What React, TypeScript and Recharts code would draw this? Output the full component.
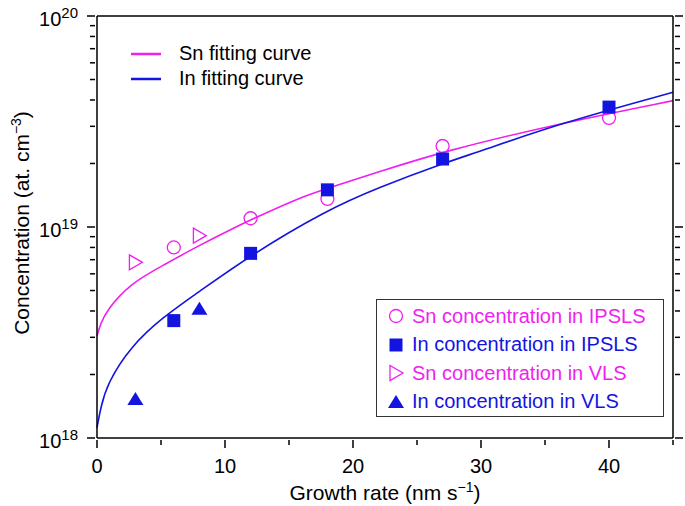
import React from 'react';
import { ComposedChart, Line, Scatter, XAxis, YAxis } from 'recharts';

const MAGENTA = '#f01ef0';
const BLUE = '#1414e0';
const FONT = '"Liberation Sans", Arial, Helvetica, sans-serif';

// measured points
const snIpsls = [
  { x: 6, y: 8.0e18 },
  { x: 12, y: 1.1e19 },
  { x: 18, y: 1.36e19 },
  { x: 27, y: 2.42e19 },
  { x: 40, y: 3.29e19 },
];
const inIpsls = [
  { x: 6, y: 3.6e18 },
  { x: 12, y: 7.5e18 },
  { x: 18, y: 1.5e19 },
  { x: 27, y: 2.1e19 },
  { x: 40, y: 3.7e19 },
];
const snVls = [
  { x: 3, y: 6.8e18 },
  { x: 8, y: 9.1e18 },
];
const inVls = [
  { x: 3, y: 1.53e18 },
  { x: 8, y: 4.1e18 },
];

// fitting curves
const snFit = [
  { x: 0, y: 3.05e18 },
  { x: 0.3, y: 3.5e18 },
  { x: 0.78, y: 4.05e18 },
  { x: 2.6, y: 5.4e18 },
  { x: 5.2, y: 6.6e18 },
  { x: 7.8, y: 8.07e18 },
  { x: 10.4, y: 9.7e18 },
  { x: 12, y: 1.08e19 },
  { x: 15.6, y: 1.36e19 },
  { x: 17.9, y: 1.52e19 },
  { x: 22.1, y: 1.83e19 },
  { x: 27, y: 2.28e19 },
  { x: 36.2, y: 3.1e19 },
  { x: 45, y: 3.97e19 },
];
const inFit = [
  { x: 0, y: 1.12e18 },
  { x: 0.3, y: 1.4e18 },
  { x: 0.78, y: 1.8e18 },
  { x: 2.6, y: 2.71e18 },
  { x: 5.2, y: 3.76e18 },
  { x: 7.8, y: 4.85e18 },
  { x: 12, y: 7.36e18 },
  { x: 17.9, y: 1.2e19 },
  { x: 22, y: 1.54e19 },
  { x: 27, y: 2.0e19 },
  { x: 29.9, y: 2.28e19 },
  { x: 36.2, y: 3.1e19 },
  { x: 45, y: 4.35e19 },
];

const xTicks = [0, 5, 10, 15, 20, 25, 30, 35, 40, 45];
const xLabelled = [0, 10, 20, 30, 40];
const yTicks = [
  1e18, 2e18, 3e18, 4e18, 5e18, 6e18, 7e18, 8e18, 9e18,
  1e19, 2e19, 3e19, 4e19, 5e19, 6e19, 7e19, 8e19, 9e19,
  1e20,
];

const fitLegend = [
  { label: 'Sn fitting curve', color: MAGENTA },
  { label: 'In fitting curve', color: BLUE },
];
const pointLegend = [
  { label: 'Sn concentration in IPSLS', color: MAGENTA, shape: 'circle' },
  { label: 'In concentration in IPSLS', color: BLUE, shape: 'square' },
  { label: 'Sn concentration in VLS', color: MAGENTA, shape: 'tri-right' },
  { label: 'In concentration in VLS', color: BLUE, shape: 'tri-up' },
];

const Marker = ({ cx, cy, shape }: { cx: number; cy: number; shape: string }) => {
  if (shape === 'circle')
    return <circle cx={cx} cy={cy} r={6.5} fill="none" stroke={MAGENTA} strokeWidth={1.3} />;
  if (shape === 'square')
    return <rect x={cx - 6.5} y={cy - 6.5} width={13} height={13} fill={BLUE} />;
  if (shape === 'tri-right')
    return (
      <polygon
        points={`${cx - 6},${cy - 7.5} ${cx + 7},${cy} ${cx - 6},${cy + 7.5}`}
        fill="none"
        stroke={MAGENTA}
        strokeWidth={1.3}
      />
    );
  return <polygon points={`${cx},${cy - 7} ${cx + 8},${cy + 6} ${cx - 8},${cy + 6}`} fill={BLUE} />;
};

const isDecade = (v: number) => {
  const e = Math.round(Math.log10(v));
  return Math.abs(v - Math.pow(10, e)) < v * 1e-6;
};

const YTick = (props: any) => {
  const { x, y, payload, side } = props;
  const v = payload.value;
  const major = isDecade(v);
  const len = major ? 8 : 5;
  const dir = side === 'left' ? -1 : 1;
  return (
    <g>
      <line x1={x} x2={x + dir * len} y1={y} y2={y} stroke="#000" strokeWidth={1.5} />
      {side === 'left' && major && (
        <text x={x - 17} y={y + 10} textAnchor="end" fontSize={20} fontFamily={FONT} fill="#000">
          10
          <tspan dy={-8} fontSize={15}>
            {Math.round(Math.log10(v))}
          </tspan>
        </text>
      )}
    </g>
  );
};

const XTick = (props: any) => {
  const { x, y, payload, side } = props;
  const v = payload.value;
  const major = xLabelled.includes(v);
  const len = major ? 8 : 5;
  const dir = side === 'bottom' ? 1 : -1;
  return (
    <g>
      <line x1={x} x2={x} y1={y} y2={y + dir * len} stroke="#000" strokeWidth={1.5} />
      {side === 'bottom' && major && (
        <text x={x} y={y + 33} textAnchor="middle" fontSize={20} fontFamily={FONT} fill="#000">
          {v}
        </text>
      )}
    </g>
  );
};

const App = () => (
  <div
    style={{
      position: 'absolute',
      left: 0,
      top: 0,
      width: 685,
      height: 506,
      background: '#fff',
      fontFamily: FONT,
    }}
  >
    <ComposedChart width={685} height={506} margin={{ top: 0, right: 0, bottom: 0, left: 0 }}>
      <XAxis
        xAxisId="b"
        orientation="bottom"
        type="number"
        dataKey="x"
        domain={[0, 45]}
        ticks={xTicks}
        interval={0}
        height={68}
        tickSize={0}
        tickLine={false}
        axisLine={{ stroke: '#000', strokeWidth: 1.5 }}
        tick={<XTick side="bottom" />}
        label={{
          content: (p: any) => {
            const vb = p.viewBox;
            return (
              <text
                x={vb.x + vb.width / 2}
                y={500}
                textAnchor="middle"
                fontSize={21}
                fontFamily={FONT}
                fill="#000"
              >
                Growth rate (nm s
                <tspan dy={-8} fontSize={14}>
                  −1
                </tspan>
                <tspan dy={8}>)</tspan>
              </text>
            );
          },
        }}
      />
      <XAxis
        xAxisId="t"
        orientation="top"
        type="number"
        domain={[0, 45]}
        ticks={xTicks}
        interval={0}
        height={16}
        tickSize={0}
        tickLine={false}
        axisLine={{ stroke: '#000', strokeWidth: 1.5 }}
        tick={<XTick side="top" />}
      />
      <YAxis
        yAxisId="l"
        orientation="left"
        type="number"
        dataKey="y"
        scale="log"
        domain={[1e18, 1e20]}
        allowDataOverflow
        ticks={yTicks}
        interval={0}
        width={97}
        tickSize={0}
        tickLine={false}
        axisLine={{ stroke: '#000', strokeWidth: 1.5 }}
        tick={<YTick side="left" />}
        label={{
          content: () => {
            const cx = 29;
            const cy = 223;
            return (
              <text
                x={cx}
                y={cy}
                transform={`rotate(-90, ${cx}, ${cy})`}
                textAnchor="middle"
                fontSize={21}
                fontFamily={FONT}
                fill="#000"
              >
                Concentration (at. cm
                <tspan dy={-8} fontSize={14}>
                  −3
                </tspan>
                <tspan dy={8}>)</tspan>
              </text>
            );
          },
        }}
      />
      <YAxis
        yAxisId="r"
        orientation="right"
        type="number"
        scale="log"
        domain={[1e18, 1e20]}
        allowDataOverflow
        ticks={yTicks}
        interval={0}
        width={12}
        tickSize={0}
        tickLine={false}
        axisLine={{ stroke: '#000', strokeWidth: 1.5 }}
        tick={<YTick side="right" />}
      />
      <Line
        xAxisId="b"
        yAxisId="l"
        data={snFit}
        dataKey="y"
        type="basis"
        stroke={MAGENTA}
        strokeWidth={1.6}
        dot={false}
        activeDot={false}
        isAnimationActive={false}
      />
      <Line
        xAxisId="b"
        yAxisId="l"
        data={inFit}
        dataKey="y"
        type="basis"
        stroke={BLUE}
        strokeWidth={1.6}
        dot={false}
        activeDot={false}
        isAnimationActive={false}
      />
      <Scatter
        xAxisId="b"
        yAxisId="l"
        data={snIpsls}
        dataKey="y"
        isAnimationActive={false}
        shape={(p: any) => <Marker cx={p.cx} cy={p.cy} shape="circle" />}
      />
      <Scatter
        xAxisId="b"
        yAxisId="l"
        data={inIpsls}
        dataKey="y"
        isAnimationActive={false}
        shape={(p: any) => <Marker cx={p.cx} cy={p.cy} shape="square" />}
      />
      <Scatter
        xAxisId="b"
        yAxisId="l"
        data={snVls}
        dataKey="y"
        isAnimationActive={false}
        shape={(p: any) => <Marker cx={p.cx} cy={p.cy} shape="tri-right" />}
      />
      <Scatter
        xAxisId="b"
        yAxisId="l"
        data={inVls}
        dataKey="y"
        isAnimationActive={false}
        shape={(p: any) => <Marker cx={p.cx} cy={p.cy} shape="tri-up" />}
      />
    </ComposedChart>

    {/* fitting-curve legend, top left */}
    <div style={{ position: 'absolute', left: 131, top: 41 }}>
      {fitLegend.map((d) => (
        <div key={d.label} style={{ display: 'flex', alignItems: 'center', height: 25 }}>
          <svg width={30} height={4} style={{ marginRight: 18 }}>
            <line x1={0} x2={30} y1={2} y2={2} stroke={d.color} strokeWidth={2.5} />
          </svg>
          <span style={{ fontSize: 20, color: '#000', whiteSpace: 'nowrap' }}>{d.label}</span>
        </div>
      ))}
    </div>

    {/* data-point legend, bottom right */}
    <div
      style={{
        position: 'absolute',
        left: 376,
        top: 299,
        width: 288,
        height: 118,
        border: '1px solid #333',
        boxSizing: 'border-box',
        paddingTop: 2,
      }}
    >
      {pointLegend.map((d) => (
        <div key={d.label} style={{ display: 'flex', alignItems: 'center', height: 28.5 }}>
          <svg width={18} height={18} style={{ marginLeft: 10, marginRight: 7 }}>
            <Marker cx={9} cy={9} shape={d.shape} />
          </svg>
          <span style={{ fontSize: 20, color: d.color, whiteSpace: 'nowrap' }}>{d.label}</span>
        </div>
      ))}
    </div>
  </div>
);

export default App;
